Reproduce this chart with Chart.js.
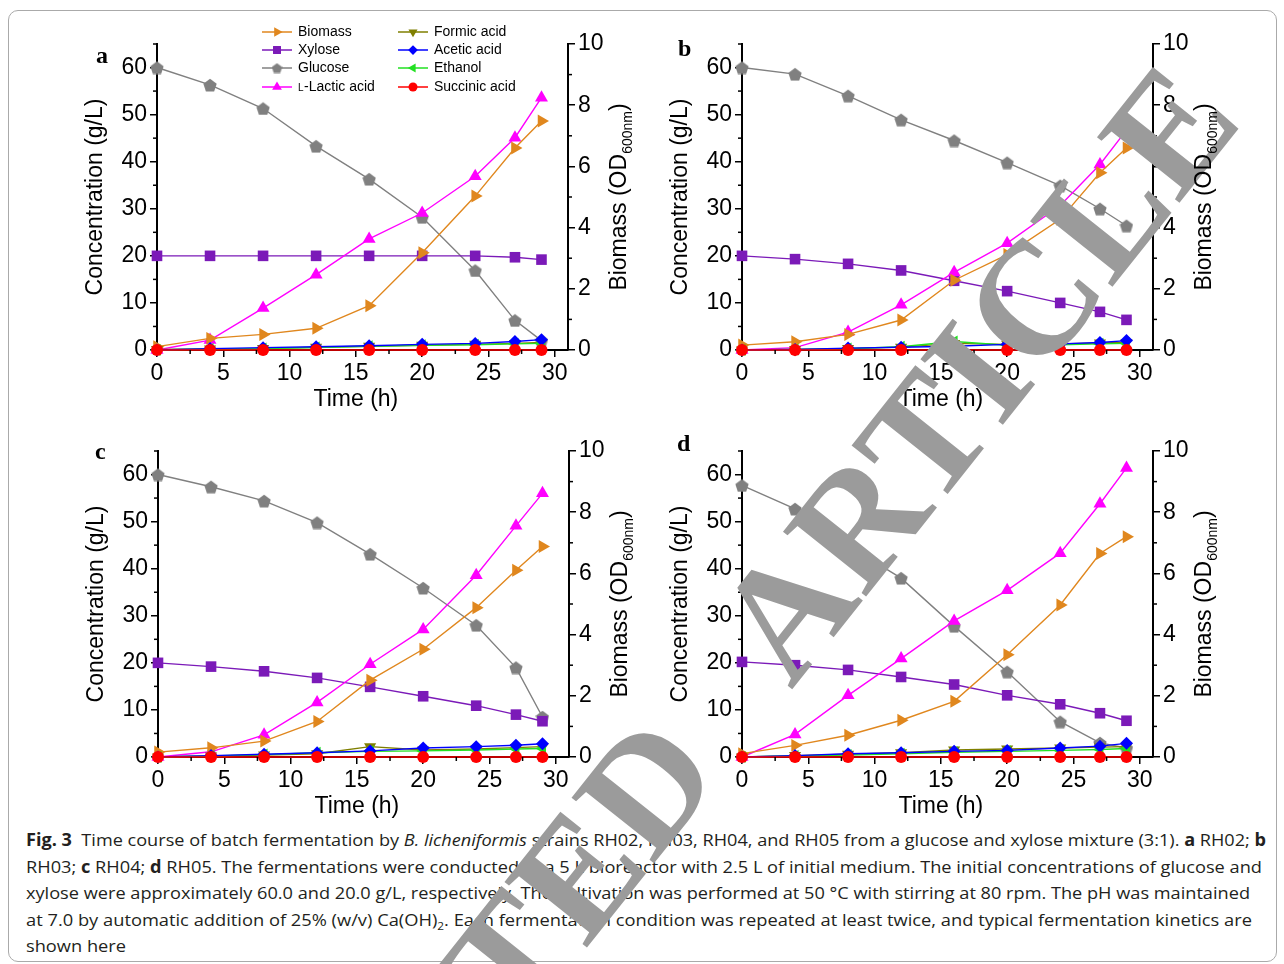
<!DOCTYPE html>
<html><head><meta charset="utf-8">
<script src="https://cdn.jsdelivr.net/npm/chart.js@4.4.1/dist/chart.umd.min.js"></script>
<style>
html,body{margin:0;padding:0;background:#fff;}
body{width:1284px;height:964px;position:relative;overflow:hidden;font-family:"Liberation Sans",Arial,sans-serif;}
.frame{position:absolute;left:8px;top:10px;width:1267px;height:950px;border:1px solid #aaa;border-radius:10px;}
canvas.panel{position:absolute;}
.ylab2{position:absolute;white-space:nowrap;font-size:23px;line-height:23px;transform:translate(-50%,-50%) rotate(-90deg);font-family:"Liberation Sans";color:#000;}
.ylab2 sub{font-size:14px;vertical-align:-6px;}
.plab{position:absolute;font-family:"Liberation Serif";font-weight:bold;font-size:24px;line-height:24px;}
.cap{position:absolute;left:26px;white-space:nowrap;font-family:"Open Sans";font-size:17px;line-height:26px;transform-origin:0 50%;color:#231f20;}
.cap sub{font-size:11px;}
.wm{position:absolute;white-space:nowrap;font-family:"Liberation Serif";font-weight:bold;font-size:161px;word-spacing:76px;color:rgb(155,155,155);transform:translate(-50%,-50%) rotate(-51.5deg);line-height:1;}
</style></head>
<body>
<div class="frame"></div>
<canvas id="pa" class="panel"></canvas>
<canvas id="pb" class="panel"></canvas>
<canvas id="pc" class="panel"></canvas>
<canvas id="pd" class="panel"></canvas>
<div class="plab" style="left:96px;top:43px;">a</div>
<div class="plab" style="left:678px;top:36px;">b</div>
<div class="plab" style="left:95px;top:439px;">c</div>
<div class="plab" style="left:677px;top:431px;">d</div>
<div id="caption"></div>
<div class="wm" style="left:628px;top:810px;">RETRACTED ARTICLE</div>
<script>
// ---------------- DATA ----------------
const times = [0, 4, 8, 12, 16, 20, 24, 27, 29];
const seriesNames = ['Biomass','Xylose','Glucose','L-Lactic acid','Formic acid','Acetic acid','Ethanol','Succinic acid'];
const concTicks = [0, 10, 20, 30, 40, 50, 60];
const odTicks = [0, 2, 4, 6, 8, 10];

// Panel a (RH02)
const biomassA  = [0.11, 0.38, 0.51, 0.71, 1.45, 3.18, 5.03, 6.60, 7.48];
const xyloseA   = [20.0, 20.0, 20.0, 20.0, 20.0, 20.0, 20.0, 19.7, 19.2];
const glucoseA  = [60.0, 56.3, 51.3, 43.3, 36.3, 28.2, 16.9, 6.3, 2.0];
const lacticA   = [0.0, 2.1, 8.9, 16.0, 23.6, 29.1, 36.9, 45.1, 53.6];
const formicA   = [0.1, 0.2, 0.3, 0.6, 0.8, 1.0, 1.2, 1.4, 1.6];
const aceticA   = [0.0, 0.3, 0.5, 0.7, 0.9, 1.2, 1.4, 1.8, 2.2];
const ethanolA  = [0.0, 0.2, 0.3, 0.5, 0.8, 1.0, 1.1, 1.3, 1.4];
const succinicA = [0, 0, 0, 0, 0, 0, 0, 0, 0];

// Panel b (RH03)
const biomassB  = [0.16, 0.27, 0.51, 0.98, 2.28, 3.12, 4.27, 5.79, 6.60];
const xyloseB   = [20.0, 19.3, 18.3, 16.9, 14.7, 12.5, 10.0, 8.1, 6.4];
const glucoseB  = [60.0, 58.6, 54.0, 48.9, 44.5, 39.8, 34.9, 30.0, 26.4];
const lacticB   = [0.0, 0.5, 3.8, 9.6, 16.5, 22.7, 30.7, 39.4, 46.7];
const formicB   = [0.0, 0.1, 0.3, 0.6, 1.4, 1.2, 1.3, 1.5, 1.6];
const aceticB   = [0.0, 0.1, 0.4, 0.6, 0.8, 1.2, 1.3, 1.6, 2.0];
const ethanolB  = [0.0, 0.1, 0.3, 0.7, 1.8, 1.0, 1.1, 1.3, 1.4];
const succinicB = [0, 0, 0, 0, 0, 0, 0, 0, 0];

// Panel c (RH04)
const biomassC  = [0.16, 0.30, 0.52, 1.16, 2.51, 3.52, 4.88, 6.10, 6.88];
const xyloseC   = [20.0, 19.2, 18.2, 16.8, 14.9, 12.9, 10.9, 9.0, 7.6];
const glucoseC  = [60.0, 57.4, 54.4, 49.8, 43.1, 35.9, 28.0, 19.0, 8.5];
const lacticC   = [0.0, 1.1, 4.7, 11.6, 19.7, 27.1, 38.6, 49.1, 56.0];
const formicC   = [0.0, 0.2, 0.4, 0.7, 2.2, 1.5, 1.7, 2.0, 2.2];
const aceticC   = [0.0, 0.3, 0.6, 0.9, 1.3, 1.9, 2.2, 2.5, 2.8];
const ethanolC  = [0.0, 0.2, 0.5, 0.9, 1.2, 1.3, 1.5, 1.7, 1.8];
const succinicC = [0, 0, 0, 0, 0, 0, 0, 0, 0];

// Panel d (RH05)
const biomassD  = [0.11, 0.38, 0.71, 1.20, 1.82, 3.34, 4.97, 6.65, 7.20];
const xyloseD   = [20.2, 19.5, 18.5, 17.0, 15.4, 13.1, 11.2, 9.3, 7.7];
const glucoseD  = [57.7, 52.7, 44.9, 38.0, 27.8, 18.1, 7.5, 3.0, 1.9];
const lacticD   = [0.0, 4.8, 13.1, 20.9, 28.9, 35.4, 43.3, 53.8, 61.4];
const formicD   = [0.0, 0.3, 0.6, 0.9, 1.5, 1.7, 1.9, 2.1, 2.2];
const aceticD   = [0.0, 0.3, 0.7, 0.9, 1.2, 1.4, 1.9, 2.3, 2.9];
const ethanolD  = [0.0, 0.2, 0.4, 0.7, 1.0, 1.2, 1.4, 1.6, 1.8];
const succinicD = [0, 0, 0, 0, 0, 0, 0, 0, 0];

const captionLines = [
  '<b>Fig. 3</b>&nbsp; Time course of batch fermentation by <i>B. licheniformis</i> strains RH02, RH03, RH04, and RH05 from a glucose and xylose mixture (3:1). <b>a</b> RH02; <b>b</b>',
  'RH03; <b>c</b> RH04; <b>d</b> RH05. The fermentations were conducted in a 5 L bioreactor with 2.5 L of initial medium. The initial concentrations of glucose and',
  'xylose were approximately 60.0 and 20.0 g/L, respectively. The cultivation was performed at 50 °C with stirring at 80 rpm. The pH was maintained',
  'at 7.0 by automatic addition of 25% (w/v) Ca(OH)<sub>2</sub>. Each fermentation condition was repeated at least twice, and typical fermentation kinetics are',
  'shown here'
];

// ---------------- STYLES ----------------
function pentagon(size, color) {
  const c = document.createElement('canvas');
  c.width = size; c.height = size;
  const g = c.getContext('2d');
  g.fillStyle = color;
  g.beginPath();
  const r = size / 2;
  for (let i = 0; i < 5; i++) {
    const a = -Math.PI / 2 + i * 2 * Math.PI / 5;
    g.lineTo(r + r * Math.cos(a), r + 0.06 * size + r * Math.sin(a));
  }
  g.closePath(); g.fill();
  return c;
}
const pentBig = pentagon(14, '#808080');
const pentSmall = pentagon(11, '#808080');

const styles = {
  'Biomass':       {color: '#E0871E', pointStyle: 'triangle', rotation: 90,  radius: 7.5, axis: 'y1'},
  'Xylose':        {color: '#7B1AB8', pointStyle: 'rect',     rotation: 0,   radius: 7.5, axis: 'y'},
  'Glucose':       {color: '#808080', pointStyle: pentBig,    rotation: 0,   radius: 7,   axis: 'y', small: pentSmall},
  'L-Lactic acid': {color: '#FF00FF', pointStyle: 'triangle', rotation: 0,   radius: 7.5, axis: 'y'},
  'Formic acid':   {color: '#7F7F00', pointStyle: 'triangle', rotation: 180, radius: 7,   axis: 'y'},
  'Acetic acid':   {color: '#0000FF', pointStyle: 'rectRot',  rotation: 0,   radius: 6.5, axis: 'y'},
  'Ethanol':       {color: '#22E022', pointStyle: 'triangle', rotation: 270, radius: 7,   axis: 'y'},
  'Succinic acid': {color: '#FF0000', pointStyle: 'circle',   rotation: 0,   radius: 6,   axis: 'y'}
};
// drawing order: first dataset ends on top
const drawOrder = ['Succinic acid','Acetic acid','Ethanol','Formic acid','Biomass','L-Lactic acid','Xylose','Glucose'];

// ---------------- PLUGINS ----------------
const minorTicks = {
  id: 'minorTicks',
  afterDraw(chart) {
    const ctx = chart.ctx;
    ctx.save();
    ctx.strokeStyle = '#000';
    ctx.lineWidth = 1.5;
    for (const s of Object.values(chart.scales)) {
      const m = s.options.minorStep;
      if (!m) continue;
      for (let v = m; v <= s.max + 1e-9; v += 2 * m) {
        const p = s.getPixelForValue(v);
        ctx.beginPath();
        if (s.position === 'bottom') { ctx.moveTo(p, s.top); ctx.lineTo(p, s.top + 4); }
        else if (s.position === 'left') { ctx.moveTo(s.right, p); ctx.lineTo(s.right - 4, p); }
        else { ctx.moveTo(s.left, p); ctx.lineTo(s.left + 4, p); }
        ctx.stroke();
      }
    }
    // x-axis title centred on the labelled 0–30 range
    const xs = chart.scales.x;
    ctx.fillStyle = '#000';
    ctx.font = '23px "Liberation Sans"';
    ctx.textAlign = 'center';
    ctx.textBaseline = 'middle';
    ctx.fillText('Time (h)', (xs.getPixelForValue(0) + xs.getPixelForValue(30)) / 2, xs.bottom - 20);
    ctx.restore();
  }
};

const boxLegend = {
  id: 'boxLegend',
  afterDraw(chart, args, opts) {
    if (!opts.show) return;
    const ctx = chart.ctx, ca = chart.chartArea;
    const cols = [seriesNames.slice(0, 4), seriesNames.slice(4)];
    const colX = [105, 241];
    const rowY = [-12, 6, 24, 43];
    ctx.save();
    cols.forEach((names, ci) => {
      names.forEach((name, ri) => {
        const st = styles[name];
        const x0 = ca.left + colX[ci], y = ca.top + rowY[ri];
        ctx.strokeStyle = st.color; ctx.fillStyle = st.color; ctx.lineWidth = 1.5;
        ctx.beginPath(); ctx.moveTo(x0, y); ctx.lineTo(x0 + 30, y); ctx.stroke();
        Chart.helpers.drawPoint(ctx, {
          pointStyle: st.small || st.pointStyle, rotation: st.rotation,
          radius: st.radius * 0.75, borderWidth: 0
        }, x0 + 15, y);
        ctx.fillStyle = '#000';
        ctx.textBaseline = 'middle';
        let tx = x0 + 36;
        let txt = name;
        if (name.startsWith('L-')) {
          ctx.font = '10px "Liberation Sans"';
          ctx.fillText('L', tx, y + 1.5);
          tx += ctx.measureText('L').width + 0.5;
          txt = name.slice(1);
        }
        ctx.font = '14px "Liberation Sans"';
        ctx.fillText(txt, tx, y);
      });
    });
    ctx.restore();
  }
};

// ---------------- CHART BUILDER ----------------
const tickFont = {family: 'Liberation Sans', size: 23};
function makePanel(id, left, top, data, showLegend) {
  const cv = document.getElementById(id);
  cv.width = 580; cv.height = 400;
  cv.style.left = left + 'px'; cv.style.top = top + 'px';
  const datasets = drawOrder.map(name => {
    const st = styles[name];
    return {
      label: name,
      data: times.map((t, i) => ({x: t, y: data[name][i]})),
      yAxisID: st.axis,
      borderColor: st.color,
      backgroundColor: st.color,
      borderWidth: 1.4,
      pointStyle: st.pointStyle,
      rotation: st.rotation,
      pointRadius: st.radius,
      pointBorderWidth: 0,
      pointBackgroundColor: st.color,
      clip: false,
      tension: 0
    };
  });
  const gridOpts = {drawOnChartArea: false, drawTicks: true, tickLength: 7, color: '#000', lineWidth: 1.5};
  const border = {display: true, color: '#000', width: 2};
  new Chart(cv, {
    type: 'line',
    data: {datasets},
    options: {
      responsive: false, animation: false, devicePixelRatio: 1,
      layout: {padding: {top: 24, left: 0, right: 0, bottom: 0}},
      plugins: {legend: {display: false}, tooltip: {enabled: false}, boxLegend: {show: showLegend}},
      scales: {
        x: {
          type: 'linear', position: 'bottom', min: 0, max: 31, minorStep: 2.5,
          ticks: {stepSize: 5, includeBounds: false, font: tickFont, color: '#000', padding: 3, maxRotation: 0},
          grid: gridOpts, border,
          title: {display: false},
          afterFit(s) { s.height = 70; }
        },
        y: {
          type: 'linear', position: 'left', min: 0, max: 65, minorStep: 5,
          afterBuildTicks(s) { s.ticks = concTicks.map(v => ({value: v})); },
          ticks: {font: tickFont, color: '#000', padding: 3},
          grid: gridOpts, border,
          title: {display: true, text: 'Concentration (g/L)', font: tickFont, color: '#000', padding: {top: 2, bottom: 0}},
          afterFit(s) { s.width = 77; }
        },
        y1: {
          type: 'linear', position: 'right', min: 0, max: 10, minorStep: 1,
          afterBuildTicks(s) { s.ticks = odTicks.map(v => ({value: v})); },
          ticks: {font: tickFont, color: '#000', padding: 3},
          grid: gridOpts, border,
          title: {display: false},
          afterFit(s) { s.width = 92; }
        }
      }
    },
    plugins: [minorTicks, boxLegend]
  });
  // right-axis title with subscript (HTML text)
  const t = document.createElement('div');
  t.className = 'ylab2';
  t.innerHTML = 'Biomass (OD<sub>600nm</sub>)';
  t.style.left = (left + 77 + 411 + 55) + 'px';
  t.style.top = (top + 24 + 153) + 'px';
  document.body.appendChild(t);
}

function pack(b, x, g, l, f, a, e, s) {
  return {'Biomass': b, 'Xylose': x, 'Glucose': g, 'L-Lactic acid': l,
          'Formic acid': f, 'Acetic acid': a, 'Ethanol': e, 'Succinic acid': s};
}
makePanel('pa', 80, 20, pack(biomassA, xyloseA, glucoseA, lacticA, formicA, aceticA, ethanolA, succinicA), true);
makePanel('pb', 665, 20, pack(biomassB, xyloseB, glucoseB, lacticB, formicB, aceticB, ethanolB, succinicB), false);
makePanel('pc', 81, 427, pack(biomassC, xyloseC, glucoseC, lacticC, formicC, aceticC, ethanolC, succinicC), false);
makePanel('pd', 665, 427, pack(biomassD, xyloseD, glucoseD, lacticD, formicD, aceticD, ethanolD, succinicD), false);

// caption
const capTargets = [1240, 1236, 1224, 1226, 100];
const capTop = [827, 853.5, 880, 906.5, 933];
const cap = document.getElementById('caption');
captionLines.forEach((html, i) => {
  const d = document.createElement('div');
  d.className = 'cap';
  d.innerHTML = html;
  d.style.top = capTop[i] + 'px';
  cap.appendChild(d);
  const w = d.getBoundingClientRect().width;
  d.style.transform = 'scaleX(' + (capTargets[i] / w) + ')';
});
</script>
</body></html>
